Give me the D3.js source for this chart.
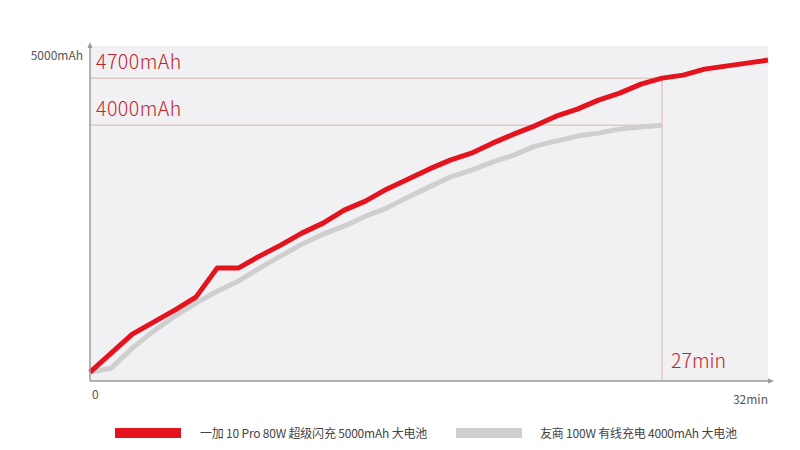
<!DOCTYPE html>
<html lang="zh">
  <head>
    <meta charset="utf-8" />
    <script src="https://d3js.org/d3.v7.min.js" charset="utf-8"></script>
  </head>

  <style>
    body {
      margin: 0;
      background: #fff;
      font-family: 'Noto Sans CJK SC', 'Noto Sans', sans-serif;
    }
    .axis-label {
      font-size: 12px;
      fill: #555;
    }
    .note {
      font-size: 19.5px;
      fill: #c3242d;
      font-weight: 300;
    }
    .legend text {
      font-size: 12px;
      fill: #444;
      letter-spacing: -0.2px;
    }
  </style>

  <body>
    <div id="plot-container"></div>

    <script type="text/javascript">
      // data //--------------------------------------------------------

      // charging time, minutes
      var minutes = d3.range(0, 33);

      // OnePlus 10 Pro, mAh charged per minute
      var oneplus_mah = [
        322, 605, 888, 1066, 1245, 1439, 1871, 1871, 2050, 2213, 2392, 2541,
        2735, 2868, 3047, 3196, 3345, 3479, 3583, 3732, 3866, 3990, 4134, 4238,
        4372, 4477, 4611, 4700, 4745, 4834, 4879, 4924, 4969,
      ];

      // competitor 100W, stops at 27 min
      var rival_mah = [
        322, 381, 679, 932, 1156, 1350, 1528, 1677, 1871, 2050, 2228, 2377,
        2496, 2645, 2764, 2928, 3077, 3226, 3330, 3449, 3553, 3687, 3762, 3837,
        3881, 3941, 3971, 4000,
      ];

      var series_names = [
        '一加 10 Pro 80W 超级闪充 5000mAh 大电池',
        '友商 100W 有线充电 4000mAh 大电池',
      ];
      var series_colors = ['#e5131d', '#cfcfcf'];

      // reference marks
      var mark_capacities = [4700, 4000];
      var mark_minute = 27;
      var y_tick_label = '5000mAh';
      var x_tick_labels = ['0', '32min'];

      // dimensions //--------------------------------------------------

      var container_dimensions = { width: 800, height: 450 };
      var margin = { top: 46, right: 32, bottom: 69, left: 90 };
      var width = container_dimensions.width - margin.left - margin.right;
      var height = container_dimensions.height - margin.top - margin.bottom;

      var svg = d3
        .select('#plot-container')
        .append('svg')
        .attr('width', container_dimensions.width)
        .attr('height', container_dimensions.height);

      var plot = svg
        .append('g')
        .attr('transform', `translate(${margin.left}, ${margin.top})`);

      // scales //------------------------------------------------------

      var scale_x = d3.scaleLinear().domain([0, 32]).range([0, width]);
      // axis baseline sits a bit above 0 mAh in the original
      var scale_y = d3
        .scaleLinear()
        .domain([190, 5000])
        .range([height, 12]);

      // background ----------------------------------------------------

      plot
        .append('rect')
        .attr('width', width)
        .attr('height', height)
        .attr('fill', '#f1f1f3');

      // reference lines -----------------------------------------------

      var ref = plot.append('g').attr('class', 'refs');
      ref
        .selectAll('line.h')
        .data(mark_capacities)
        .join('line')
        .attr('class', 'h')
        .attr('x1', 0)
        .attr('x2', scale_x(mark_minute))
        .attr('y1', (d) => scale_y(d))
        .attr('y2', (d) => scale_y(d))
        .attr('stroke', '#dab3b3')
        .attr('stroke-width', 1);

      ref
        .append('line')
        .attr('x1', scale_x(mark_minute))
        .attr('x2', scale_x(mark_minute))
        .attr('y1', scale_y(d3.max(mark_capacities)))
        .attr('y2', height)
        .attr('stroke', '#dab3b3')
        .attr('stroke-width', 1);

      ref
        .selectAll('text.cap')
        .data(mark_capacities)
        .join('text')
        .attr('class', 'note cap')
        .attr('x', 6)
        .attr('y', (d) => scale_y(d) - 9)
        .style('letter-spacing', '0.5px')
        .text((d) => d + 'mAh');

      ref
        .append('text')
        .attr('class', 'note')
        .attr('x', scale_x(mark_minute) + 9)
        .attr('y', height - 13)
        .text(mark_minute + 'min');

      // lines ---------------------------------------------------------

      var line = d3
        .line()
        .x((d, i) => scale_x(minutes[i]))
        .y((d) => scale_y(d));

      plot
        .append('path')
        .datum(rival_mah)
        .attr('fill', 'none')
        .attr('stroke', series_colors[1])
        .attr('stroke-width', 5)
        .attr('stroke-linejoin', 'round')
        .attr('d', line);

      plot
        .append('path')
        .datum(oneplus_mah)
        .attr('fill', 'none')
        .attr('stroke', series_colors[0])
        .attr('stroke-width', 5)
        .attr('stroke-linejoin', 'round')
        .attr('d', line);

      // axes ----------------------------------------------------------

      var axis_color = '#9a9a9a';
      plot
        .append('line')
        .attr('x1', 0)
        .attr('x2', 0)
        .attr('y1', -2)
        .attr('y2', height)
        .attr('stroke', axis_color)
        .attr('stroke-width', 1.5);
      plot
        .append('path')
        .attr('d', 'M-2.5,2 L0,-4 L2.5,2 Z')
        .attr('fill', axis_color);

      plot
        .append('line')
        .attr('x1', 0)
        .attr('x2', width + 2)
        .attr('y1', height)
        .attr('y2', height)
        .attr('stroke', axis_color)
        .attr('stroke-width', 1.5);
      plot
        .append('path')
        .attr(
          'd',
          `M${width},${height - 2.5} L${width + 6},${height} L${width},${
            height + 2.5
          } Z`
        )
        .attr('fill', axis_color);

      plot
        .append('text')
        .attr('class', 'axis-label')
        .attr('text-anchor', 'end')
        .attr('x', -7)
        .attr('y', scale_y(5000) + 2)
        .text(y_tick_label);

      plot
        .append('text')
        .attr('class', 'axis-label')
        .attr('x', scale_x(0) + 2)
        .attr('y', height + 18)
        .text(x_tick_labels[0]);

      plot
        .append('text')
        .attr('class', 'axis-label')
        .attr('text-anchor', 'end')
        .attr('x', scale_x(32))
        .attr('y', height + 23)
        .text(x_tick_labels[1]);

      // legend --------------------------------------------------------

      var legend_x = [115, 456];
      var legend = svg
        .append('g')
        .attr('class', 'legend')
        .attr('transform', 'translate(0, 428)');

      var items = legend
        .selectAll('g')
        .data(series_names)
        .join('g')
        .attr('transform', (d, i) => `translate(${legend_x[i]}, 0)`);

      items
        .append('rect')
        .attr('width', 66)
        .attr('height', 10)
        .attr('fill', (d, i) => series_colors[i]);

      items
        .append('text')
        .attr('x', (d, i) => (i == 0 ? 85 : 84))
        .attr('y', 10)
        .text((d) => d);
    </script>
  </body>
</html>
